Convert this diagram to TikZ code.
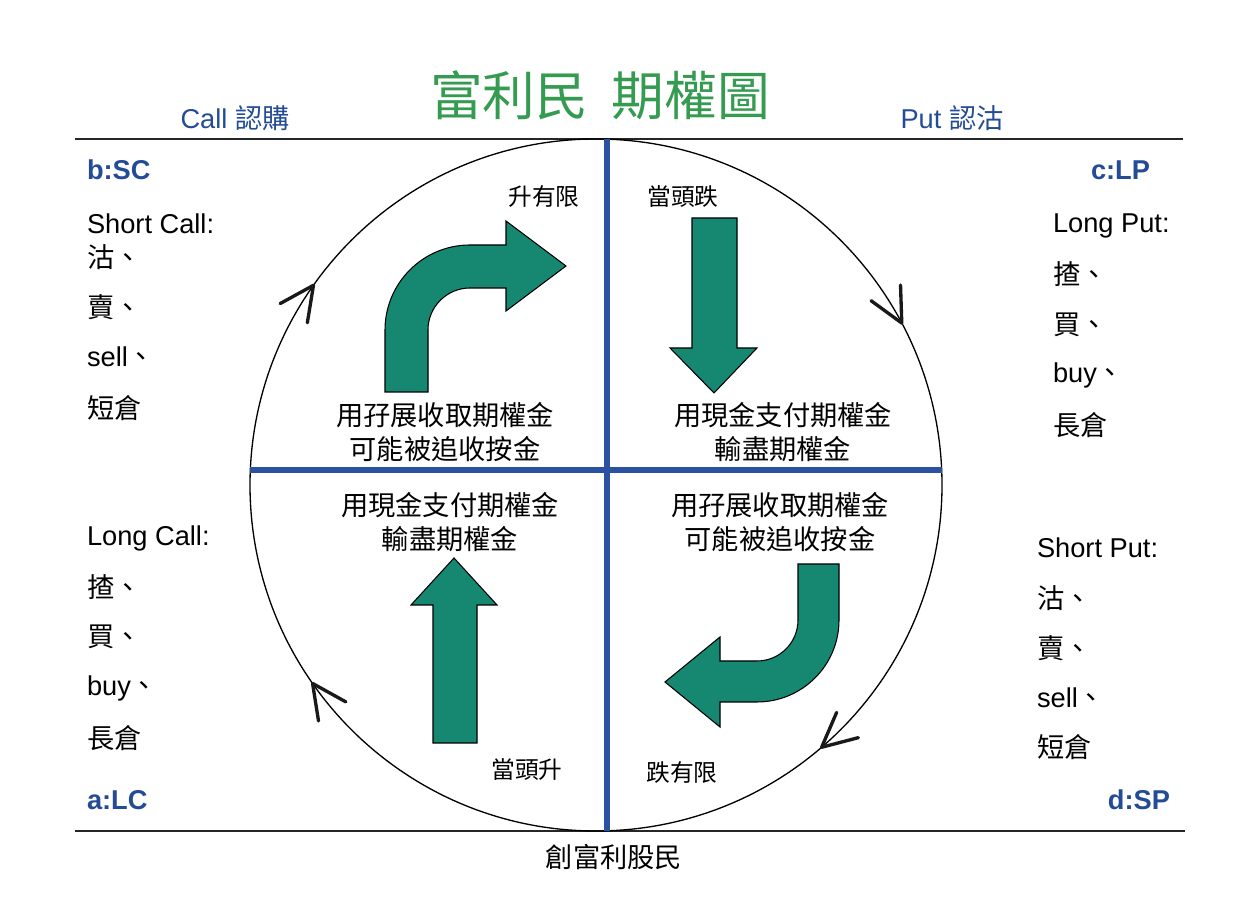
\documentclass[tikz,border=0pt]{standalone}
\usepackage{fontspec}
\setmainfont{Liberation Sans}
\newfontfamily\cjk{Noto Sans CJK TC}
\usetikzlibrary{calc}
\definecolor{lineblue}{RGB}{43,82,160}
\definecolor{labblue}{RGB}{35,75,150}
\definecolor{titlegreen}{RGB}{52,155,80}
\definecolor{arrowteal}{RGB}{22,135,112}
\begin{document}
\begin{tikzpicture}[x=0.02cm,y=0.02cm,
  every node/.style={inner sep=0pt, outer sep=0pt},
  body/.style={font=\fontsize{15.5}{18}\selectfont, text=black, anchor=west},
  cjkbody/.style={font=\cjk\fontsize{15.5}{18}\selectfont, text=black, anchor=west},
  small/.style={font=\cjk\fontsize{13.5}{16}\selectfont, text=black},
  corner/.style={font=\bfseries\fontsize{15.5}{18}\selectfont, text=labblue},
  head/.style={font=\fontsize{15.5}{18}\selectfont, text=labblue},
  quad/.style={font=\cjk\fontsize{15.5}{19.3}\selectfont, align=center, text=black},
  rule/.style={line width=0.8pt, draw=black!85},
  blueline/.style={line width=2.9pt, draw=lineblue},
  ring/.style={line width=0.75pt, draw=black},
  chev/.style={line width=1.9pt, line cap=round, line join=round, draw=black!90},
  blockarrow/.style={fill=arrowteal, draw=black, line width=0.6pt, line join=miter}]
\useasboundingbox (0,0) rectangle (1247,908);
\fill[white] (0,0) rectangle (1247,908);

% frame rules
\coordinate (tl) at (75,769);
\coordinate (tr) at (1183,769);
\coordinate (bl) at (75,77);
\coordinate (br) at (1185,77);
\draw[rule] (tl) -- (tr);
\draw[rule] (bl) -- (br);

% circle
\coordinate (c) at (596,423);
\draw[ring] (c) circle (346);

% quadrant lines
\coordinate (vt) at (607,769);
\coordinate (vb) at (607,77);
\coordinate (hl) at (250.3,438);
\coordinate (hr) at (941.7,438);
\draw[blueline] (hl) -- (hr);
\draw[blueline] (vt) -- (vb);

% chevrons on the circle (clockwise)
\foreach \a in {144.75,27.9,-49.3,215}{
  \draw[chev] ($(c)+(\a:346)$) ++(\a+116:38) -- ($(c)+(\a:346)$) -- ++(\a+64:38);
}

% block arrows
\draw[blockarrow] (385,516) -- (385,578) arc[start angle=180,end angle=90,radius=85]
  -- (506,663) -- (506,687) -- (566,642) -- (506,597) -- (506,620) -- (470,620)
  arc[start angle=90,end angle=180,radius=42] -- (428,516) -- cycle;
\draw[blockarrow] (692,690) -- (737,690) -- (737,560) -- (757,560) -- (714,515)
  -- (670,560) -- (692,560) -- cycle;
\draw[blockarrow] (433,165) -- (477,165) -- (477,303) -- (497,303) -- (454,350)
  -- (411,303) -- (433,303) -- cycle;
\draw[blockarrow] (798,344) -- (839,344) -- (839,288) arc[start angle=0,end angle=-90,radius=82]
  -- (720,206) -- (720,181) -- (665,226) -- (720,271) -- (720,247) -- (757,247)
  arc[start angle=-90,end angle=0,radius=41] -- cycle;

% title and headers
\node[font=\cjk\fontsize{30}{34}\selectfont, text=titlegreen] (title) at (600,813) {富利民\hspace{0.45em}期權圖};
\node[head] (call) at (235,790) {Call {\cjk 認購}};
\node[head] (put) at (952,790) {Put {\cjk 認沽}};
\node[small] (bottom) at (614,51) {\fontsize{15.5}{18}\selectfont 創富利股民};

% corner labels
\node[corner, anchor=west] (bsc) at (87,738) {b:SC};
\node[corner, anchor=east] (clp) at (1150,738) {c:LP};
\node[corner, anchor=west] (alc) at (87,108) {a:LC};
\node[corner, anchor=east] (dsp) at (1170,108) {d:SP};

% left top list
\node[body] (sc0) at (87,684) {Short Call:};
\node[cjkbody] (sc1) at (87,651) {沽、};
\node[cjkbody] (sc2) at (87,601) {賣、};
\node[body] (sc3) at (87,551) {sell{\cjk 、}};
\node[cjkbody] (sc4) at (87,500) {短倉};

% right top list
\node[body] (lp0) at (1053,682) {Long Put:};
\node[cjkbody] (lp1) at (1053,634) {揸、};
\node[cjkbody] (lp2) at (1053,583) {買、};
\node[body] (lp3) at (1053,533) {buy{\cjk 、}};
\node[cjkbody] (lp4) at (1053,483) {長倉};

% left bottom list
\node[body] (lc0) at (87,370) {Long Call:};
\node[cjkbody] (lc1) at (87,321) {揸、};
\node[cjkbody] (lc2) at (87,271) {買、};
\node[body] (lc3) at (87,220) {buy{\cjk 、}};
\node[cjkbody] (lc4) at (87,170) {長倉};

% right bottom list
\node[body] (sp0) at (1037,360) {Short Put:};
\node[cjkbody] (sp1) at (1037,310) {沽、};
\node[cjkbody] (sp2) at (1037,260) {賣、};
\node[body] (sp3) at (1037,210) {sell{\cjk 、}};
\node[cjkbody] (sp4) at (1037,161) {短倉};

% quadrant texts
\node[quad] (q1) at (445,476) {用孖展收取期權金\\可能被追收按金};
\node[quad] (q2) at (783,476) {用現金支付期權金\\輸盡期權金};
\node[quad] (q3) at (450,386) {用現金支付期權金\\輸盡期權金};
\node[quad] (q4) at (780,386) {用孖展收取期權金\\可能被追收按金};

% small labels
\node[small] (s1) at (544,711) {升有限};
\node[small] (s2) at (683,711) {當頭跌};
\node[small] (s3) at (527,138) {當頭升};
\node[small] (s4) at (682,135) {跌有限};
\end{tikzpicture}
\end{document}
